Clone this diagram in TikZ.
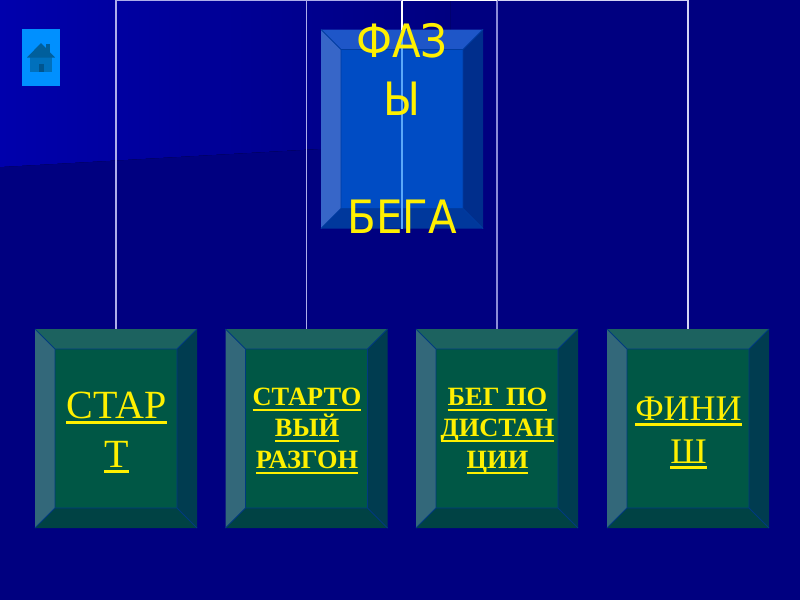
\documentclass[tikz,border=0pt]{standalone}
\usepackage{fontspec}
\usetikzlibrary{calc}
\setmainfont{Liberation Serif}
\newfontfamily\headfont[FakeStretch=0.91]{DejaVu Sans}
\newcommand{\myul}[2][3pt]{\setbox0=\hbox{#2}\leavevmode\rlap{\rule[-5.5pt]{\wd0}{#1}}\box0 }
\definecolor{bgdark}{HTML}{000080}
\definecolor{bgbright}{HTML}{0000AC}
\definecolor{linea}{HTML}{AEAEEA}
\definecolor{linec}{HTML}{8C8CD8}
\definecolor{lined}{HTML}{D4D4F4}
\definecolor{linecore}{HTML}{5AA8F8}
\definecolor{txt}{HTML}{FFF000}
\definecolor{gface}{HTML}{005745}
\definecolor{gtop}{HTML}{1C625F}
\definecolor{gleft}{HTML}{33687A}
\definecolor{gright}{HTML}{003C50}
\definecolor{gbot}{HTML}{004244}
\definecolor{gedge}{HTML}{003A80}
\definecolor{bface}{HTML}{004CC4}
\definecolor{btop}{HTML}{1E56C8}
\definecolor{bleft}{HTML}{3766C8}
\definecolor{bright}{HTML}{002E8C}
\definecolor{bbot}{HTML}{00389C}
\definecolor{bedge}{HTML}{003CA0}
\definecolor{homebtn}{HTML}{0090FF}
\definecolor{homeroof}{HTML}{005F9C}
\definecolor{homebody}{HTML}{0070BC}
\definecolor{homedoor}{HTML}{00558F}
\tikzset{
  x=1pt,y=-1pt,
  conn/.style={line width=1.6pt},
  boxnode/.style={minimum width=162pt,minimum height=199pt,inner sep=0pt,outer sep=0pt},
  lbl/.style={text=txt,align=center,inner sep=0pt},
}
\newcommand{\bevelbox}[6]{%
  \fill[#3] (#1.north west) -- (#1.north east) -- ($(#1.north east)+(-20,20)$) -- ($(#1.north west)+(20,20)$) -- cycle;
  \fill[#4] (#1.north west) -- (#1.south west) -- ($(#1.south west)+(20,-20)$) -- ($(#1.north west)+(20,20)$) -- cycle;
  \fill[#5] (#1.north east) -- (#1.south east) -- ($(#1.south east)+(-20,-20)$) -- ($(#1.north east)+(-20,20)$) -- cycle;
  \fill[#6] (#1.south west) -- (#1.south east) -- ($(#1.south east)+(-20,-20)$) -- ($(#1.south west)+(20,-20)$) -- cycle;
  \fill[#2] ($(#1.north west)+(20,20)$) rectangle ($(#1.south east)+(-20,-20)$);
}
\newcommand{\bevellines}[2]{%
  \draw[#2,line width=.8pt] (#1.north west) -- ($(#1.north west)+(20,20)$) (#1.north east) -- ($(#1.north east)+(-20,20)$)
    (#1.south west) -- ($(#1.south west)+(20,-20)$) (#1.south east) -- ($(#1.south east)+(-20,-20)$)
    ($(#1.north west)+(20,20)$) rectangle ($(#1.south east)+(-20,-20)$);
}
\begin{document}
\begin{tikzpicture}
\useasboundingbox (0,0) rectangle (800,600);
\fill[bgdark] (0,0) rectangle (800,600);
\fill[left color=bgbright,right color=bgdark] (0,0) -- (450,0) -- (450,141.5) -- (0,167) -- cycle;
% nodes
\node[boxnode] (root) at (402,129) {};
\node[boxnode] (a) at (116,428.5) {};
\node[boxnode] (b) at (306.5,428.5) {};
\node[boxnode] (c) at (497,428.5) {};
\node[boxnode] (d) at (688,428.5) {};
\coordinate (hub) at (402,0.5);
% connectors
\draw[conn,lined] (hub) -| (d.north);
\draw[conn,linec] (hub) -| (c.north);
\draw[conn,linea] (hub) -| (a.north);
\draw[conn,linea] (hub) -| (b.north);
\draw[conn,white] (hub) -- (hub -| c.north);
% root
\bevelbox{root}{bface}{btop}{bleft}{bright}{bbot}
\bevellines{root}{bedge}
\draw[linecore,conn] (hub |- root.north) -- (hub |- root.south);
\draw[white,conn] (hub) -- (hub |- root.north);
\foreach \n in {a,b,c,d}{
  \bevelbox{\n}{gface}{gtop}{gleft}{gright}{gbot}
  \bevellines{\n}{gedge}
}
% labels
\node[lbl,font=\headfont\fontsize{46}{58.7}\selectfont] (rootl) at (402,128) {ФАЗ\\Ы\\\\БЕГА};
\node[lbl,font=\fontsize{40}{49}\selectfont] (al) at (116.5,432.5) {\myul{СТАР}\\\myul{Т}};
\node[lbl,font=\bfseries\fontsize{26.4}{31.5}\selectfont] (bl) at (307,431) {\myul[2.4pt]{СТАРТО}\\\myul[2.4pt]{ВЫЙ}\\\myul[2.4pt]{РАЗГОН}};
\node[lbl,font=\bfseries\fontsize{26.4}{31.5}\selectfont] (cl) at (497.5,431) {\myul[2.4pt]{БЕГ ПО}\\\myul[2.4pt]{ДИСТАН}\\\myul[2.4pt]{ЦИИ}};
\node[lbl,font=\fontsize{36}{43}\selectfont] (dl) at (688.5,433) {\myul{ФИНИ}\\\myul{Ш}};
% home button
\fill[homebtn] (22,29) rectangle (60,86);
\fill[homebody] (30,57) rectangle (52,72);
\fill[homeroof] (45.5,44) rectangle (49.5,52);
\fill[homeroof] (27,57.5) -- (41,43) -- (55,57.5) -- cycle;
\fill[homedoor] (39,64) rectangle (43.5,72);
\end{tikzpicture}
\end{document}
